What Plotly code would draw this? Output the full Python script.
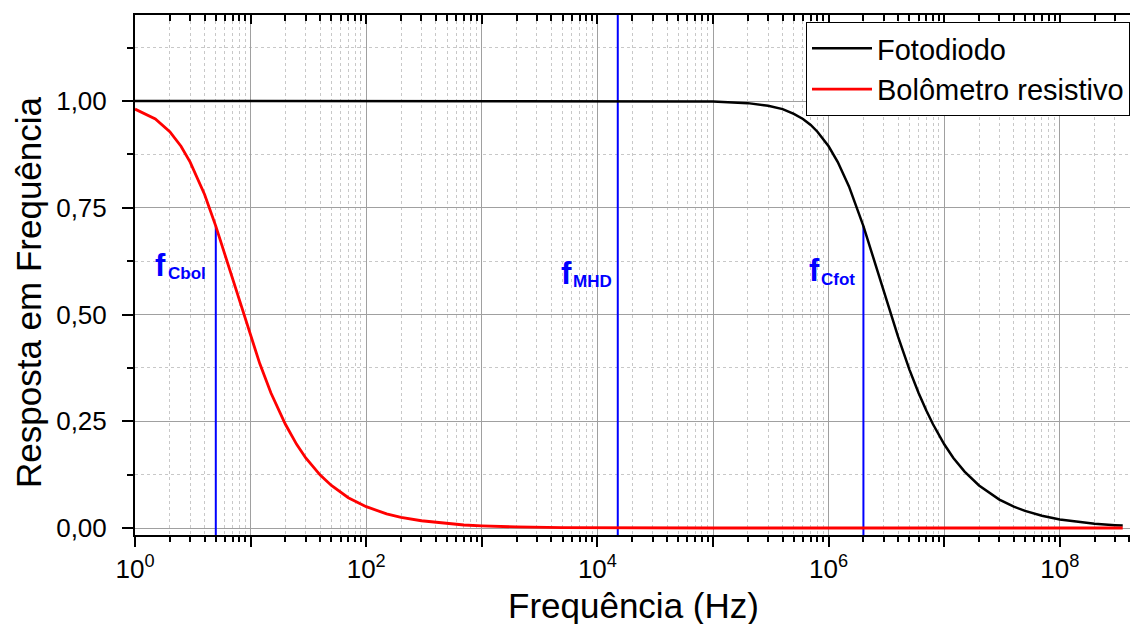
import plotly.graph_objects as go
import numpy as np

# ---------------- data ----------------
freq_fot = [1, 1e4, 1e5, 2e5, 3e5, 4e5, 5e5, 6e5, 7e5, 8e5, 1e6, 1.2e6, 1.5e6, 2e6,
            2.5e6, 3e6, 4e6, 5e6, 6e6, 7e6, 8e6, 1e7, 1.2e7, 1.5e7, 2e7, 3e7, 4e7,
            5e7, 7e7, 1e8, 1.5e8, 2e8, 3e8, 3.5e8]
resp_fot = [1.000, 1.000, 0.999, 0.995, 0.989, 0.981, 0.970, 0.958, 0.944, 0.928, 0.894,
            0.857, 0.800, 0.707, 0.625, 0.555, 0.447, 0.371, 0.316, 0.275, 0.243, 0.196,
            0.164, 0.132, 0.0995, 0.0665, 0.050, 0.040, 0.0286, 0.020, 0.0133, 0.010,
            0.0067, 0.0057]

freq_bol = [1, 1.5, 2, 2.5, 3, 4, 5, 6, 7, 8, 10, 12, 15, 20, 25, 30, 40, 50, 70, 100,
            150, 200, 300, 500, 700, 1000, 2000, 5000, 1e4, 1e5, 3.5e8]
resp_bol = [0.981, 0.958, 0.928, 0.894, 0.857, 0.781, 0.707, 0.640, 0.581, 0.530, 0.447,
            0.385, 0.316, 0.243, 0.196, 0.164, 0.124, 0.0995, 0.071, 0.050, 0.033, 0.025,
            0.017, 0.010, 0.007, 0.005, 0.0025, 0.001, 0.0005, 0.0, 0.0]

marker_freqs = [5, 1.5e4, 2e6]
marker_tops = [0.707, 1.2014, 0.707]
marker_labels = ["Cbol", "MHD", "Cfot"]

y_tickvals = [0, 0.25, 0.5, 0.75, 1.0]
y_ticktext = ["0,00", "0,25", "0,50", "0,75", "1,00"]
x_decades = list(range(0, 9))
x_ticktext = ["10<sup>%d</sup>" % d if d % 2 == 0 else "" for d in x_decades]

series_names = ["Fotodiodo", "Bolômetro resistivo"]
x_title = "Frequência (Hz)"
y_title = "Resposta em Frequência"

# ---------------- figure ----------------
FONT = "Liberation Sans, Arial, sans-serif"
Y0, Y1 = -0.0164, 1.2014
XR = [0, 8.607]

fig = go.Figure()

for f, top in zip(marker_freqs, marker_tops):
    fig.add_trace(go.Scatter(x=[f, f], y=[Y0, top], mode="lines",
                             line=dict(color="#0000ff", width=2), showlegend=False,
                             hoverinfo="skip"))

fig.add_trace(go.Scatter(x=freq_fot, y=resp_fot, mode="lines", name=series_names[0],
                         line=dict(color="#000000", width=2.5), legendrank=1))
fig.add_trace(go.Scatter(x=freq_bol, y=resp_bol, mode="lines", name=series_names[1],
                         line=dict(color="#ff0000", width=2.8), legendrank=2))
# invisible trace to hold the top axis
fig.add_trace(go.Scatter(x=[1, 10], y=[None, None], xaxis="x2", showlegend=False,
                         hoverinfo="skip", mode="lines"))

minor_x = [m * 10 ** d for d in range(0, 9) for m in range(2, 10)]
minor_x = [v for v in minor_x if np.log10(v) <= XR[1]]
major_x = [10 ** d for d in x_decades]

fig.update_layout(
    width=1130, height=624,
    margin=dict(l=135, r=0, t=15, b=89),
    paper_bgcolor="white", plot_bgcolor="white",
    font=dict(family=FONT, color="black", size=26),
    showlegend=True,
    legend=dict(x=1, xanchor="right", y=(535 - 22) / 520, yanchor="top",
                bordercolor="black", borderwidth=1, bgcolor="white",
                font=dict(size=29, family=FONT), traceorder="normal",
                tracegroupgap=0, itemwidth=60),
    xaxis=dict(type="log", range=XR, tickmode="array", tickvals=major_x,
               ticktext=x_ticktext, ticks="outside", ticklen=10, tickwidth=2,
               tickcolor="black", showline=True, linecolor="black", linewidth=2,
               showgrid=True, gridcolor="#a0a0a0", gridwidth=1,
               tickfont=dict(size=26, family=FONT), ticklabelstandoff=0,
               minor=dict(tickvals=minor_x, ticks="outside", ticklen=5, tickwidth=2,
                          tickcolor="black", showgrid=True, gridcolor="#c8c8c8",
                          griddash="dot", gridwidth=1),
               zeroline=False),
    xaxis2=dict(type="log", range=XR, overlaying="x", side="top", anchor="y",
                tickmode="array", tickvals=major_x, showticklabels=False,
                ticks="inside", ticklen=9, tickwidth=2, tickcolor="black",
                showline=True, linecolor="black", linewidth=2, showgrid=False,
                minor=dict(tickvals=minor_x, ticks="inside", ticklen=6, tickwidth=2,
                           tickcolor="black", showgrid=False)),
    yaxis=dict(range=[Y0, Y1], tickmode="array", tickvals=y_tickvals,
               ticktext=y_ticktext, ticks="outside", ticklen=11, tickwidth=2,
               tickcolor="black", showline=True, linecolor="black", linewidth=2,
               showgrid=True, gridcolor="#a0a0a0", gridwidth=1, zeroline=False,
               tickfont=dict(size=26, family=FONT), ticklabelstandoff=10,
               minor=dict(tickvals=[0.125, 0.375, 0.625, 0.875, 1.125], ticks="outside",
                          ticklen=6, tickwidth=2, tickcolor="black", showgrid=True,
                          gridcolor="#c8c8c8", griddash="dot", gridwidth=1)),
)

# axis titles as annotations (paper coordinates)
fig.add_annotation(x=(633 - 135) / 995, y=-(605 - 535) / 520, xref="paper", yref="paper",
                   text=x_title, showarrow=False, xanchor="center", yanchor="middle",
                   font=dict(size=35, family=FONT, color="black"))
fig.add_annotation(x=(28 - 135) / 995, y=(535 - 292) / 520, xref="paper", yref="paper",
                   text=y_title, showarrow=False, xanchor="center", yanchor="middle",
                   textangle=-90, font=dict(size=35, family=FONT, color="black"))

# annotation positions (log-x units, y data units)
f_pos = [(0.155, 0.614), (3.668, 0.595), (5.814, 0.604)]
s_pos = [(0.270, 0.597), (3.770, 0.578), (5.916, 0.583)]
for (fx, fy), (sx, sy), lab in zip(f_pos, s_pos, marker_labels):
    fig.add_annotation(x=fx, y=fy, xref="x", yref="y", text="<b>f</b>", showarrow=False,
                       xanchor="left", yanchor="middle",
                       font=dict(size=31, color="#0000ff", family=FONT))
    fig.add_annotation(x=sx, y=sy, xref="x", yref="y", text="<b>%s</b>" % lab,
                       showarrow=False, xanchor="left", yanchor="middle",
                       font=dict(size=17, color="#0000ff", family=FONT))

fig.write_html("out.html")
